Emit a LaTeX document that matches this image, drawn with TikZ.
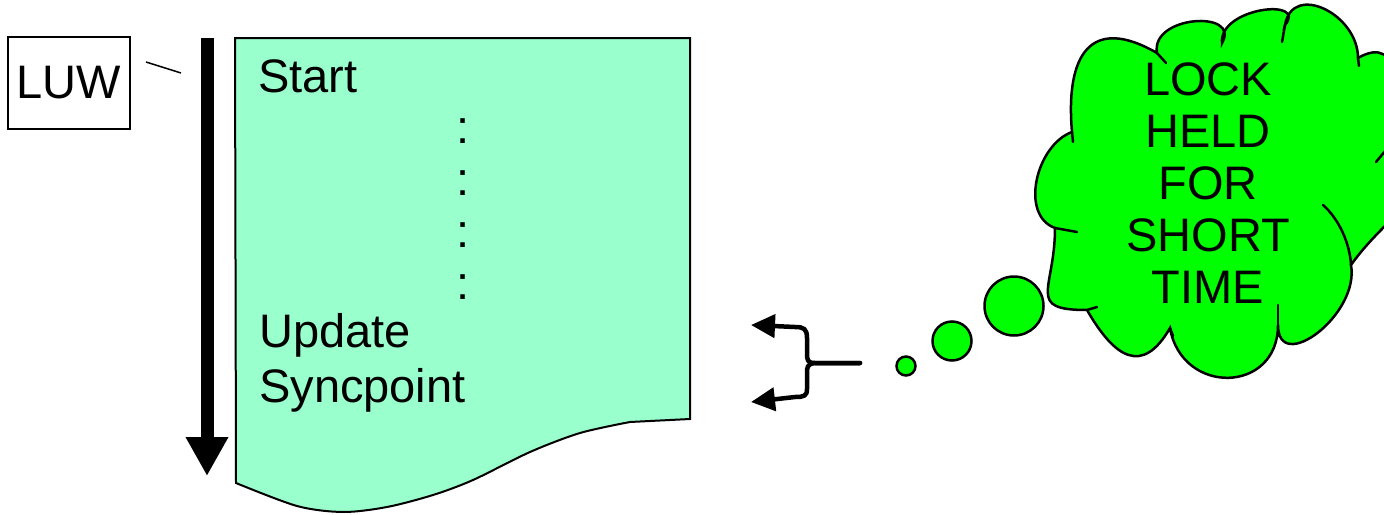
\documentclass[tikz,border=0pt]{standalone}
\usepackage{fontspec}
\setmainfont{Liberation Sans}
\usepackage{tikz}
\usetikzlibrary{arrows.meta,positioning}
\definecolor{PaperMint}{HTML}{99FFCC}
\definecolor{LockGreen}{HTML}{00FF00}
\tikzset{
  bigtext/.style={font=\fontsize{47}{52}\selectfont, inner sep=0pt},
  luwbox/.style={bigtext, draw, line width=2pt, minimum width=122pt, minimum height=92pt},
  paper/.style={draw, line width=2pt, fill=PaperMint},
  timeline/.style={line width=13pt, -{Triangle[length=39pt,width=40pt]}},
  pointer/.style={line width=4.5pt, line join=round, -{Triangle[length=24pt,width=23pt]}},
  bubble/.style={circle, draw, line width=2.5pt, fill=LockGreen, inner sep=0pt},
  cloudline/.style={draw, line width=2.5pt, fill=LockGreen},
  curl/.style={line width=2.5pt, line cap=round}
}

\begin{document}
\begin{tikzpicture}[x=1pt, y=1pt]
  \useasboundingbox (0,0) rectangle (1384,-514);

  % the unit of work
  \draw[paper] (235,-38) -- (690,-38) -- (690,-419)
    -- plot[smooth] coordinates {(630,-422) (580,-433) (530,-452) (473,-480)
      (433,-495) (387,-507) (343,-512) (297,-506) (236,-483)} -- cycle;
  \node[luwbox] (luw) at (69,-83) {LUW};
  \coordinate (tickA) at (146,-62);
  \coordinate (tickB) at (181,-73);
  \draw[line width=1.5pt] (tickA) -- (tickB);
  \coordinate (luwTop) at (207,-38);
  \coordinate (luwEnd) at (207,-476);
  \draw[timeline] (luwTop) -- (luwEnd);

  \node[bigtext, anchor=base west] (start) at (258,-92) {Start};
  \foreach \y in {143,195,247,299}
    \node[bigtext, anchor=base] (dots\y) at (463,-\y) {:};
  \node[bigtext, anchor=base west] (update) at (259,-347) {Update};
  \node[bigtext, anchor=base west] (sync) at (259,-402) {Syncpoint};

  % brace pointing at update and syncpoint
  \coordinate (brace) at (860,-363);
  \coordinate (updTip) at (751,-325);
  \coordinate (syncTip) at (751,-402);
  \draw[pointer, line cap=round] (brace) -- (815,-363) .. controls (807,-363) and (807,-360) .. (807,-352)
    -- (807,-338) .. controls (807,-329) and (804,-327) .. (795,-327) -- (updTip);
  \draw[pointer, line cap=round] (brace) -- (815,-363) .. controls (807,-364) and (807,-367) .. (807,-374)
    -- (807,-389) .. controls (807,-396) and (804,-397) .. (795,-397) -- (syncTip);

  % thought bubbles
  \node[bubble, minimum size=19pt] (b1) at (906,-366) {};
  \node[bubble, minimum size=39pt] (b2) at (952,-341) {};
  \node[bubble, minimum size=59pt] (b3) at (1014,-306) {};

  \draw[cloudline] (1072,-132)
    to[out=95, in=150, looseness=1.7] (1157,-53)
    to[out=100, in=60, looseness=1.5] (1222,-43)
    to[out=95, in=50, looseness=1.4] (1285,-25)
    to[out=80, in=90, looseness=1.4] (1358,-58)
    to[out=30, in=90, looseness=1.3] (1400,-150)
    to[out=-20, in=55, looseness=1.4] (1351,-265)
    to[out=-80, in=-90, looseness=1.37] (1278,-325)
    to[out=-90, in=-80, looseness=1.63] (1170,-328)
    to[out=-120, in=-60, looseness=1.67] (1087,-310)
    to[out=180, in=-90, looseness=1.8] (1055,-228)
    to[out=160, in=200, looseness=1] cycle;
  \draw[curl] (1072,-132) -- (1073,-142);
  \draw[curl] (1157,-53) -- (1166,-63);
  \draw[curl] (1285,-25) -- (1282,-42);
  \draw[curl] (1358,-58) -- (1359,-66);
  \draw[curl] (1376,-162) -- (1386,-150);
  \draw[curl] (1323,-205) .. controls (1340,-220) and (1350,-245) .. (1351,-265);
  \draw[curl] (1278,-325) -- (1278,-305);
  \draw[curl] (1170,-328) -- (1173,-336);
  \draw[curl] (1087,-310) -- (1097,-307);
  \draw[curl] (1055,-228) -- (1077,-232);
  \node[bigtext, align=center, anchor=north] (lock) at (1208,-62) {LOCK\\HELD\\FOR\\SHORT\\TIME};
\end{tikzpicture}
\end{document}
